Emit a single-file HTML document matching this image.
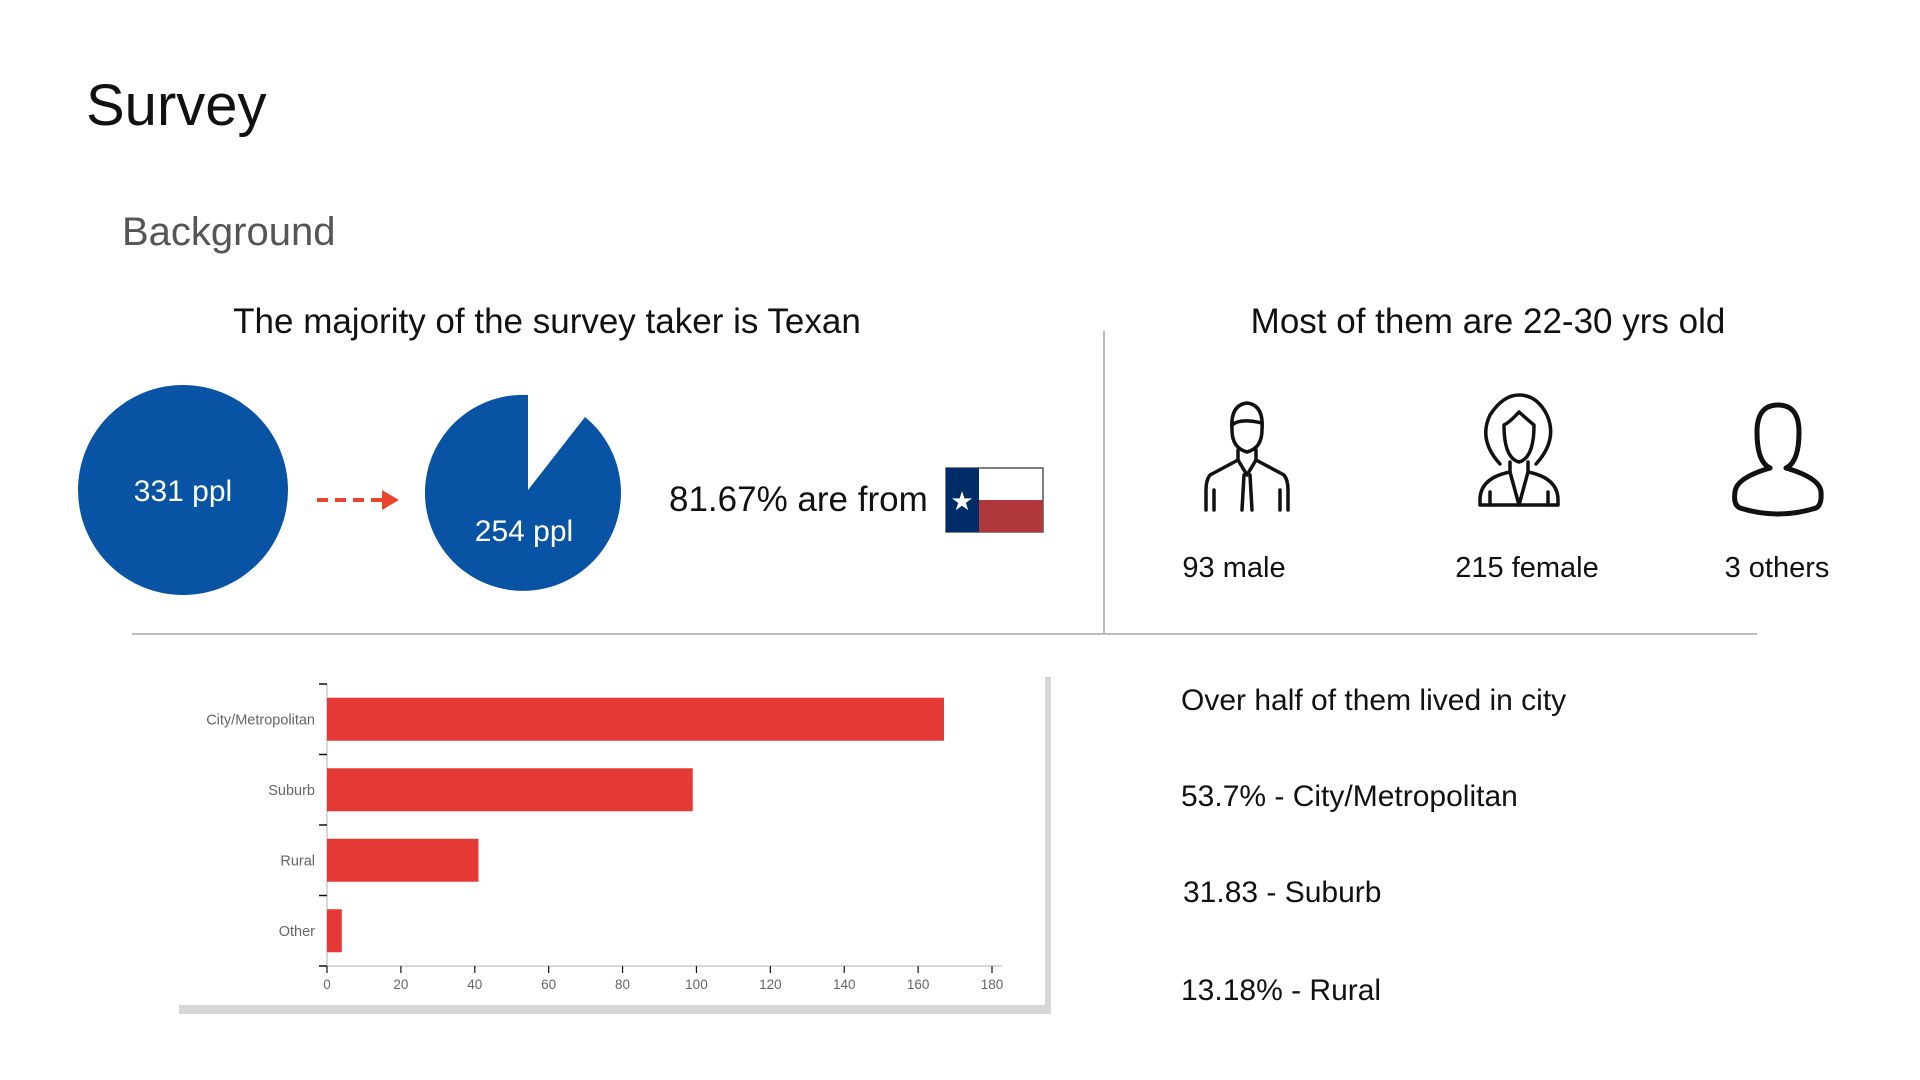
<!DOCTYPE html>
<html><head><meta charset="utf-8"><style>
body{margin:0;width:1920px;height:1080px;background:#fff;position:relative;overflow:hidden;font-family:"Liberation Sans",sans-serif;}
.t{position:absolute;white-space:nowrap;}
</style></head><body>
<div class="t" style="left:86px;top:72px;font-size:58px;color:#111;">Survey</div>
<div class="t" style="left:122px;top:210px;font-size:40px;color:#555;">Background</div>
<div class="t" style="left:547px;top:302px;font-size:35px;color:#111;transform:translateX(-50%);">The majority of the survey taker is Texan</div>
<div class="t" style="left:1488px;top:302px;font-size:35px;color:#111;transform:translateX(-50%);">Most of them are 22-30 yrs old</div>

<svg width="1920" height="1080" style="position:absolute;left:0;top:0">
 <line x1="1104" y1="331" x2="1104" y2="634" stroke="#bbb" stroke-width="2"/>
 <line x1="132" y1="634" x2="1757" y2="634" stroke="#bbb" stroke-width="2"/>
 <circle cx="183" cy="490" r="105" fill="#0853a4"/>
 <text x="183" y="501" font-size="30" fill="#fff" text-anchor="middle" font-family="Liberation Sans">331 ppl</text>
 <line x1="317" y1="500" x2="384" y2="500" stroke="#e8452f" stroke-width="4" stroke-dasharray="11,7"/>
 <polygon points="382,490 399,500 382,510" fill="#e8452f"/>
 <path d="M528,490 L528,395 A98,98 0 1 0 585,417 Z" fill="#0853a4"/>
 <text x="524" y="541" font-size="30" fill="#fff" text-anchor="middle" font-family="Liberation Sans">254 ppl</text>
 <text x="669" y="511" font-size="35" fill="#111" font-family="Liberation Sans">81.67% are from</text>
 <g>
  <rect x="946" y="468" width="97" height="64" fill="#fff" stroke="#555" stroke-width="1.5"/>
  <rect x="946" y="468" width="33" height="64" fill="#002d68"/>
  <rect x="979" y="500" width="64" height="32" fill="#b0373c"/>
  <text x="962" y="510" font-size="26" fill="#fff" text-anchor="middle">★</text>
 </g>
 <g fill="none" stroke="#111" stroke-width="3.5" stroke-linecap="round" stroke-linejoin="round">
  <path d="M1232,430 Q1230,405 1247,403 Q1264,405 1262,430 Q1262,448 1247,452 Q1232,448 1232,430Z"/>
  <path d="M1232,425 Q1240,418 1262,423"/>
  <path d="M1238,450 L1238,460 L1210,475 Q1206,480 1206,490 L1206,510 M1256,450 L1256,460 L1284,475 Q1288,480 1288,490 L1288,510"/>
  <path d="M1238,460 L1247,475 L1256,460 M1244,475 L1242,510 M1250,475 L1252,510 M1214,490 L1214,510 M1280,490 L1280,510"/>
 </g>
 <g fill="none" stroke="#111" stroke-width="3.5" stroke-linecap="round" stroke-linejoin="round">
  <path d="M1500,464 Q1478,440 1490,415 Q1503,395 1519,395 Q1537,395 1547,415 Q1558,440 1536,464"/>
  <path d="M1504,425 Q1504,458 1519,462 Q1534,458 1534,425 Q1528,420 1519,412 Q1510,422 1504,425Z"/>
  <path d="M1510,462 L1510,472 Q1480,478 1480,500 L1480,505 L1558,505 L1558,500 Q1558,478 1528,472 L1528,462"/>
  <path d="M1510,472 L1519,505 L1528,472 M1490,492 L1490,505 M1548,492 L1548,505"/>
 </g>
 <g fill="none" stroke="#111" stroke-width="5" stroke-linecap="round">
  <path d="M1778,405 Q1757,405 1757,432 Q1757,462 1770,468 M1778,405 Q1799,405 1799,432 Q1799,462 1786,468"/>
  <path d="M1770,468 Q1736,478 1735,492 Q1733,505 1740,508 Q1778,520 1816,508 Q1822,505 1821,492 Q1820,478 1786,468"/>
 </g>
 <rect x="1045" y="677" width="6" height="337" fill="#d6d6d6"/>
 <rect x="179" y="1005" width="872" height="9" fill="#d6d6d6"/>
 <g id="chart"></g>
</svg>

<div class="t" style="left:1234px;top:552px;font-size:29px;color:#111;transform:translateX(-50%);">93 male</div>
<div class="t" style="left:1527px;top:552px;font-size:29px;color:#111;transform:translateX(-50%);">215 female</div>
<div class="t" style="left:1777px;top:552px;font-size:29px;color:#111;transform:translateX(-50%);">3 others</div>

<div class="t" style="left:1181px;top:684px;font-size:30px;color:#111;">Over half of them lived in city</div>
<div class="t" style="left:1181px;top:780px;font-size:30px;color:#111;">53.7% - City/Metropolitan</div>
<div class="t" style="left:1183px;top:876px;font-size:30px;color:#111;">31.83 - Suburb</div>
<div class="t" style="left:1181px;top:974px;font-size:30px;color:#111;">13.18% - Rural</div>

<script>
const categories = ["City/Metropolitan","Suburb","Rural","Other"];
const values = [167, 99, 41, 4];
const xTicks = [0,20,40,60,80,100,120,140,160,180];
const NS="http://www.w3.org/2000/svg";
const g=document.getElementById('chart');
const x0=327,x1=992,xMax=180,yTop=684,yBot=966;
const xs=v=>x0+(v/xMax)*(x1-x0);
const band=(yBot-yTop)/categories.length;
function mk(t,a){const e=document.createElementNS(NS,t);for(const k in a)e.setAttribute(k,a[k]);g.appendChild(e);return e;}
let ax=mk('line',{x1:x0,y1:yTop,x2:x0,y2:yBot,stroke:'#ccc','stroke-width':1.5});


let bx=mk('line',{x1:x0,y1:yBot,x2:x1+10,y2:yBot,stroke:'#ccc','stroke-width':1.5});


for(let i=0;i<=categories.length;i++){
 const t=mk('line',{x1:x0-8,y1:yTop+i*band,x2:x0,y2:yTop+i*band,stroke:'#111','stroke-width':1.5});
 
 
}
categories.forEach((c,i)=>{
 const cy=yTop+band*(i+0.5);
 const r=mk('rect',{x:x0,y:cy-21.5,width:xs(values[i])-x0,height:43,fill:'#e53935'});
 
 
 const l=mk('text',{x:x0-12,y:cy+5,'font-size':14.5,fill:'#666','text-anchor':'end','font-family':'Liberation Sans'});
 l.textContent=c;
 
 
});
xTicks.forEach(v=>{
 const t=mk('line',{x1:xs(v),y1:yBot,x2:xs(v),y2:yBot+7,stroke:'#111','stroke-width':1.2});
 
 
 const l=mk('text',{x:xs(v),y:yBot+23,'font-size':13.5,fill:'#666','text-anchor':'middle','font-family':'Liberation Sans'});
 l.textContent=v;
 
 
});
</script>
</body></html>
